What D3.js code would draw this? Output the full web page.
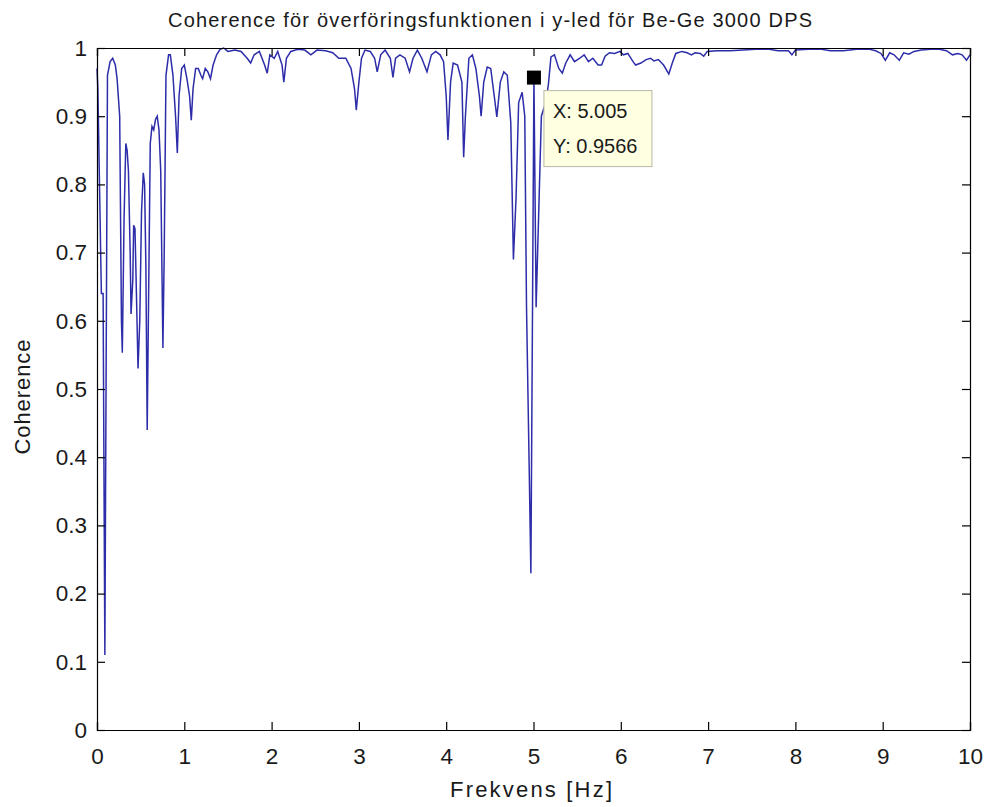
<!DOCTYPE html>
<html>
<head>
<meta charset="utf-8">
<script src="https://cdn.jsdelivr.net/npm/d3@7"></script>
<style>
  html, body { margin: 0; padding: 0; background: #ffffff; }
  svg text { font-family: "Liberation Sans", Arial, sans-serif; fill: #1a1a1a; }
</style>
</head>
<body>
<div id="chart"></div>
<script>
const titleText = "Coherence för överföringsfunktionen i y-led för Be-Ge 3000 DPS";
const xLabelText = "Frekvens [Hz]";
const yLabelText = "Coherence";
const xTicks = [0,1,2,3,4,5,6,7,8,9,10];
const yTicks = [0,0.1,0.2,0.3,0.4,0.5,0.6,0.7,0.8,0.9,1];
const tipX = 5.005;
const tipY = 0.9566;

const freq = [
  0.00,0.01,0.03,0.05,0.07,0.09,0.10,0.12,0.15,0.18,0.21,0.23,0.26,0.28,0.29,0.31,0.33,0.345,0.36,0.38,
  0.39,0.41,0.42,0.435,0.45,0.47,0.49,0.51,0.53,0.545,0.56,0.575,0.59,0.61,0.63,0.65,0.67,0.69,0.71,0.73,
  0.755,0.77,0.79,0.82,0.84,0.87,0.90,0.92,0.94,0.97,1.00,1.03,1.06,1.08,1.10,1.13,1.16,1.19,1.21,1.24,
  1.27,1.30,1.33,1.37,1.41,1.45,1.50,1.58,1.65,1.72,1.76,1.80,1.86,1.92,1.95,1.98,2.03,2.07,2.12,2.14,
  2.17,2.22,2.30,2.38,2.45,2.52,2.62,2.70,2.77,2.85,2.91,2.95,2.97,3.00,3.03,3.07,3.13,3.18,3.21,3.25,
  3.30,3.36,3.39,3.42,3.47,3.53,3.58,3.62,3.67,3.72,3.78,3.83,3.88,3.93,3.97,4.00,4.02,4.05,4.08,4.13,
  4.18,4.20,4.22,4.26,4.30,4.34,4.38,4.40,4.43,4.47,4.51,4.55,4.58,4.62,4.66,4.70,4.74,4.77,4.80,4.83,
  4.87,4.90,4.92,4.95,4.97,5.005,5.03,5.09,5.14,5.17,5.20,5.24,5.29,5.33,5.37,5.42,5.47,5.53,5.58,5.63,
  5.68,5.74,5.78,5.82,5.87,5.93,5.99,6.03,6.08,6.14,6.17,6.23,6.29,6.34,6.38,6.43,6.49,6.55,6.59,6.63,
  6.70,6.76,6.81,6.85,6.91,6.95,6.99,7.10,7.25,7.40,7.55,7.70,7.80,7.92,7.96,8.00,8.15,8.30,8.40,8.55,
  8.70,8.85,8.92,8.98,9.03,9.08,9.13,9.19,9.24,9.30,9.36,9.44,9.55,9.65,9.73,9.80,9.86,9.91,9.96,10.00
];
const coherence = [
  0.97,0.94,0.79,0.64,0.64,0.11,0.40,0.96,0.98,0.985,0.975,0.955,0.90,0.60,0.553,0.75,0.86,0.85,0.82,0.70,
  0.61,0.66,0.74,0.735,0.65,0.53,0.60,0.76,0.817,0.80,0.68,0.44,0.62,0.86,0.885,0.88,0.895,0.90,0.88,0.82,
  0.56,0.70,0.96,0.99,0.99,0.96,0.90,0.846,0.93,0.97,0.975,0.955,0.93,0.894,0.94,0.97,0.97,0.96,0.955,0.97,
  0.965,0.955,0.975,0.99,0.998,1.0,0.995,0.997,0.995,0.985,0.978,0.99,0.995,0.975,0.963,0.99,0.985,0.995,0.975,0.95,
  0.985,0.995,0.998,0.997,0.99,0.997,0.996,0.993,0.985,0.985,0.97,0.94,0.909,0.95,0.985,0.997,0.995,0.985,0.965,0.99,
  0.997,0.985,0.957,0.985,0.99,0.985,0.965,0.985,0.997,0.985,0.965,0.99,0.995,0.99,0.98,0.93,0.865,0.95,0.978,0.975,
  0.95,0.84,0.90,0.985,0.99,0.97,0.93,0.90,0.95,0.972,0.97,0.93,0.899,0.95,0.965,0.96,0.89,0.69,0.78,0.92,
  0.935,0.90,0.62,0.39,0.23,0.9566,0.62,0.90,0.92,0.946,0.987,0.99,0.97,0.963,0.978,0.99,0.98,0.985,0.99,0.98,
  0.985,0.975,0.975,0.988,0.993,0.992,0.995,0.99,0.992,0.98,0.975,0.978,0.983,0.985,0.981,0.983,0.975,0.962,0.978,0.992,
  0.995,0.993,0.99,0.993,0.992,0.988,0.995,0.996,0.996,0.997,0.998,0.998,0.996,0.996,0.99,0.997,0.998,0.998,0.996,0.996,
  0.998,0.998,0.996,0.992,0.982,0.993,0.99,0.982,0.993,0.991,0.995,0.997,0.998,0.998,0.996,0.99,0.992,0.99,0.982,0.99
];

const W = 987, H = 807;
const m = { left: 97, right: 17, top: 48, bottom: 77 };
const iw = W - m.left - m.right, ih = H - m.top - m.bottom;

const svg = d3.select("#chart").append("svg").attr("width", W).attr("height", H);
svg.append("rect").attr("width", W).attr("height", H).attr("fill", "#ffffff");

const x = d3.scaleLinear().domain([0, 10]).range([m.left, m.left + iw]);
const y = d3.scaleLinear().domain([0, 1]).range([m.top + ih, m.top]);

const data = freq.map((f, i) => ({ f, c: coherence[i] }));

const g = svg.append("g");
g.append("rect").attr("x", m.left).attr("y", m.top).attr("width", iw).attr("height", ih)
  .attr("fill", "#ffffff");

const line = d3.line().x(d => x(d.f)).y(d => y(d.c));
g.append("path").datum(data).attr("d", line)
  .attr("fill", "none").attr("stroke", "#2d2daa").attr("stroke-width", 1.5)
  .attr("stroke-linejoin", "miter");

const fs = 22.5;
const ax = svg.append("g").attr("transform", `translate(0,${m.top + ih})`)
  .call(d3.axisBottom(x).tickValues(xTicks).tickSize(-8).tickPadding(18).tickFormat(d3.format("d")));
const ay = svg.append("g").attr("transform", `translate(${m.left},0)`)
  .call(d3.axisLeft(y).tickValues(yTicks).tickSize(-8).tickPadding(10).tickFormat(d => d === 0 ? "0" : d === 1 ? "1" : d3.format(".1f")(d)));
const at = svg.append("g").attr("transform", `translate(0,${m.top})`)
  .call(d3.axisTop(x).tickValues(xTicks).tickSize(-8).tickFormat(""));
const ar = svg.append("g").attr("transform", `translate(${m.left + iw},0)`)
  .call(d3.axisRight(y).tickValues(yTicks).tickSize(-8).tickFormat(""));
[ax, ay, at, ar].forEach(a => {
  a.selectAll("path").attr("stroke", "#000").attr("stroke-width", 1.2);
  a.selectAll("line").attr("stroke", "#000").attr("stroke-width", 1.2);
  a.selectAll("text").attr("font-size", fs).attr("font-family", "Liberation Sans, Arial, sans-serif").attr("fill", "#1a1a1a");
});

svg.append("text").attr("x", 490).attr("y", 27).attr("text-anchor", "middle")
  .attr("font-size", 20).attr("textLength", 644).attr("lengthAdjust", "spacing").text(titleText);
svg.append("text").attr("x", 531).attr("y", 797).attr("text-anchor", "middle")
  .attr("font-size", 22).attr("textLength", 162).attr("lengthAdjust", "spacing").text(xLabelText);
svg.append("text").attr("transform", `translate(30,397) rotate(-90)`)
  .attr("text-anchor", "middle").attr("font-size", 22).attr("textLength", 115).attr("lengthAdjust", "spacing").text(yLabelText);

const px = x(tipX), py = y(tipY);
svg.append("rect").attr("x", px - 7).attr("y", py - 7).attr("width", 14).attr("height", 14).attr("fill", "#000");
const bx = px + 10, by = py + 13;
svg.append("rect").attr("x", bx).attr("y", by).attr("width", 108).attr("height", 76)
  .attr("fill", "#ffffe1").attr("stroke", "#b8b8a8").attr("stroke-width", 1);
svg.append("text").attr("x", bx + 9).attr("y", by + 27).attr("font-size", 20).text("X: " + tipX);
svg.append("text").attr("x", bx + 9).attr("y", by + 62).attr("font-size", 20).text("Y: " + tipY);
</script>
</body>
</html>
